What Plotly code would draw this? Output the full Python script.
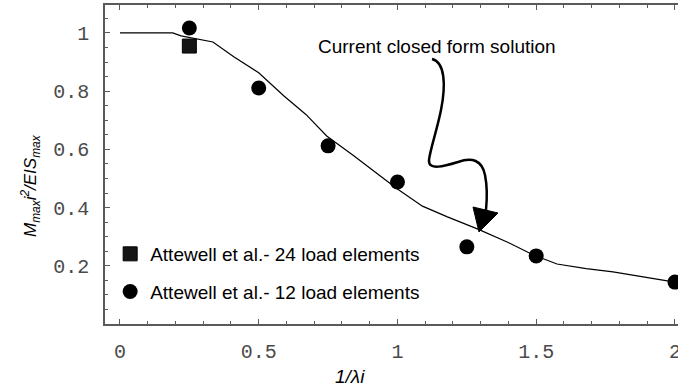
import plotly.graph_objects as go

# ---- data ----
x_closed = [0, 0.19, 0.22, 0.335, 0.41, 0.50, 0.59, 0.67, 0.745, 0.84, 0.937, 1.0,
            1.09, 1.18, 1.29, 1.395, 1.49, 1.575, 1.68, 1.777, 1.88, 2.0]
y_closed = [1.0, 1.0, 0.99, 0.969, 0.918, 0.863, 0.784, 0.72, 0.646, 0.58, 0.509, 0.464,
            0.405, 0.368, 0.326, 0.282, 0.237, 0.206, 0.19, 0.179, 0.163, 0.144]

x_att12 = [0.25, 0.5, 0.75, 1.0, 1.25, 1.5, 2.0]
y_att12 = [1.017, 0.811, 0.612, 0.488, 0.265, 0.234, 0.144]

x_att24 = [0.25]
y_att24 = [0.955]

x_tickvals = [0, 0.5, 1, 1.5, 2]
x_ticktext = ["0", "0.5", "1", "1.5", "2"]
y_tickvals = [0.2, 0.4, 0.6, 0.8, 1.0]
y_ticktext = ["0.2", "0.4", "0.6", "0.8", "1"]

X_RANGE = [-0.054, 2.011]
Y_RANGE = [0, 1.096]

W, H = 678, 391
ML, MR, MT, MB = 105, 0, 5, 67
PW, PH = W - ML - MR, H - MT - MB

def px2d(px, py):
    """pixel position -> data coordinates (for decorations only)"""
    fx = (px - ML) / PW
    fy = (H - MB - py) / PH
    return (X_RANGE[0] + fx * (X_RANGE[1] - X_RANGE[0]),
            Y_RANGE[0] + fy * (Y_RANGE[1] - Y_RANGE[0]))

def px2paper(px, py):
    return ((px - ML) / PW, (H - MB - py) / PH)

fig = go.Figure()

fig.add_trace(go.Scatter(x=x_closed, y=y_closed, mode="lines",
                         line=dict(color="black", width=1.2),
                         showlegend=False, hoverinfo="skip"))
fig.add_trace(go.Scatter(x=x_att24, y=y_att24, mode="markers",
                         name="Attewell et al.- 24 load elements",
                         legendgroup="a",
                         marker=dict(symbol="square", size=14, color="#151515",
                                     line=dict(color="black", width=1))))
fig.add_trace(go.Scatter(x=x_att12, y=y_att12, mode="markers",
                         name="Attewell et al.- 12 load elements",
                         legendgroup="b",
                         marker=dict(symbol="circle", size=15, color="black",
                                     line=dict(color="black", width=0))))

# wavy arrow (decoration)
pts = [(432, 59), (445, 62), (446, 85), (441, 110),
       (437, 130), (430, 150), (429, 160),
       (428, 171), (445, 166), (458, 162),
       (472, 157), (482, 160), (485, 175),
       (488, 190), (487, 200), (486, 210)]
d = [px2d(*p) for p in pts]
path = "M %f,%f" % d[0]
for i in range(1, len(d), 3):
    path += " C %f,%f %f,%f %f,%f" % (d[i] + d[i + 1] + d[i + 2])
fig.add_shape(type="path", path=path, xref="x", yref="y",
              line=dict(color="black", width=2.5))
head = [px2d(473, 207), px2d(498, 213), px2d(479, 232)]
hpath = "M %f,%f L %f,%f L %f,%f Z" % (head[0] + head[1] + head[2])
fig.add_shape(type="path", path=hpath, xref="x", yref="y",
              line=dict(color="black", width=1), fillcolor="black")

ax_x, ax_y = px2d(437, 46)
fig.add_annotation(x=ax_x, y=ax_y, xref="x", yref="y",
                   text="Current closed form solution", showarrow=False,
                   font=dict(family="Liberation Sans, Arial", size=19, color="black"))

# axis titles
tx, ty = px2paper(350, 376)
fig.add_annotation(x=tx, y=ty, xref="paper", yref="paper",
                   text="<i>1/λi</i>", showarrow=False, yanchor="middle",
                   font=dict(family="Liberation Sans, Arial", size=19, color="black"))
yx, yy = px2paper(30, 186)
fig.add_annotation(x=yx, y=yy, xref="paper", yref="paper", textangle=-90,
                   text="<i>M<sub>max</sub>i<sup>2</sup>/EIS<sub>max</sub></i>",
                   showarrow=False, xanchor="center", yanchor="middle",
                   font=dict(family="Liberation Sans, Arial", size=17, color="black"))

tick_font = dict(family="Liberation Mono, Courier New, monospace", size=20, color="#4a4a4a")
axis_col = "#5a5a5a"

fig.update_xaxes(range=X_RANGE, tickvals=x_tickvals, ticktext=x_ticktext,
                 showgrid=False, zeroline=False, showline=True, linecolor=axis_col,
                 linewidth=1.5, mirror="ticks", ticks="inside", ticklen=5,
                 tickcolor=axis_col, tickfont=tick_font, ticklabelstandoff=8,
                 ticklabeloverflow="allow",
                 minor=dict(dtick=0.1, tick0=0, ticks="inside", ticklen=3,
                            tickcolor=axis_col, showgrid=False))
fig.update_yaxes(range=Y_RANGE, tickvals=y_tickvals, ticktext=y_ticktext,
                 showgrid=False, zeroline=False, showline=True, linecolor=axis_col,
                 linewidth=1.5, ticks="inside", ticklen=5, tickcolor=axis_col,
                 tickfont=tick_font, ticklabelstandoff=10,
                 minor=dict(dtick=0.05, tick0=0, ticks="inside", ticklen=3,
                            tickcolor=axis_col, showgrid=False))

fig.update_layout(
    width=W, height=H,
    margin=dict(l=ML, r=MR, t=MT, b=MB, autoexpand=False),
    paper_bgcolor="white", plot_bgcolor="white",
    showlegend=True,
    legend=dict(x=0.009, y=(H - MB - 235) / PH, xanchor="left", yanchor="top",
                traceorder="grouped", tracegroupgap=10,
                bgcolor="rgba(0,0,0,0)",
                font=dict(family="Liberation Sans, Arial", size=19, color="black")),
)

fig.write_html("out.html")
